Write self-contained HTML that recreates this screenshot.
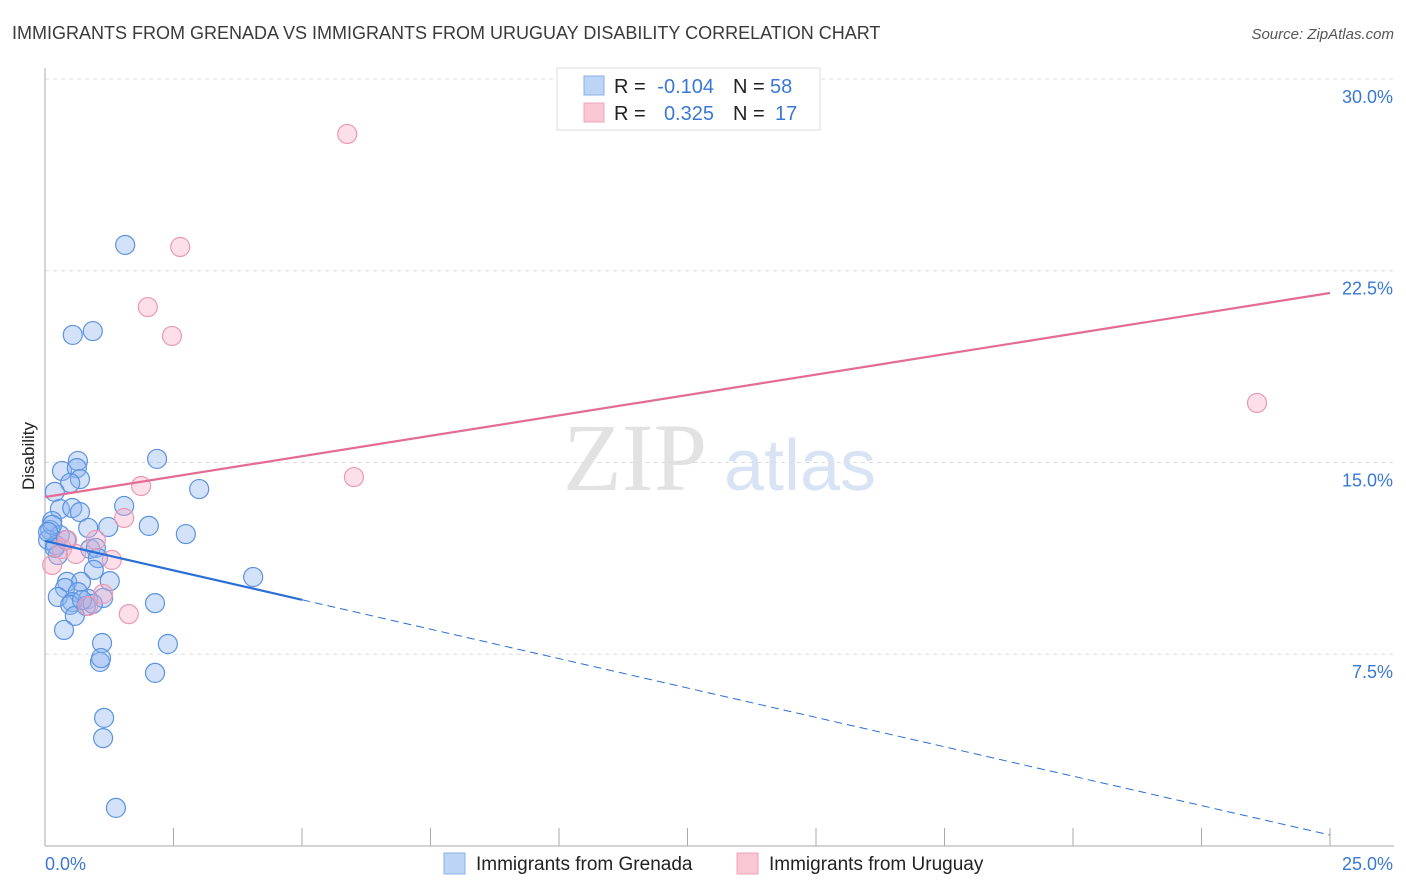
<!DOCTYPE html>
<html><head><meta charset="utf-8"><style>
body{margin:0;background:#fff;font-family:"Liberation Sans",sans-serif;}
svg{display:block}
</style></head><body>
<svg id="chart" width="1406" height="892" xmlns="http://www.w3.org/2000/svg">
<text x="12" y="39" font-size="18" fill="#3a3a3a">IMMIGRANTS FROM GRENADA VS IMMIGRANTS FROM URUGUAY DISABILITY CORRELATION CHART</text>
<text x="1394" y="39" font-size="15" fill="#555" font-style="italic" text-anchor="end">Source: ZipAtlas.com</text>
<g>
<text x="635" y="490" font-size="96" fill="#e2e2e2" font-family="Liberation Serif,serif" text-anchor="middle">ZIP</text>
<text x="800" y="490" font-size="72" fill="#d8e4f4" text-anchor="middle">atlas</text>
</g>
<g id="grid"></g>
<g id="axes"></g>
<g id="marks"></g>
<text transform="translate(34,456) rotate(-90)" font-size="17" fill="#222" text-anchor="middle">Disability</text>
<g font-size="20">
<rect x="557" y="68" width="263" height="62" fill="#fff" stroke="#ddd"/>
<rect x="584" y="76" width="20" height="19" fill="#bcd4f6" stroke="#8ab0e8"/>
<rect x="584" y="103" width="20" height="19" fill="#f9c6d4" stroke="#eea4b8"/>
<text x="614" y="93" fill="#222">R =</text>
<text x="714" y="93" fill="#3a78d4" text-anchor="end">-0.104</text>
<text x="733" y="93" fill="#222">N =</text>
<text x="770" y="93" fill="#3a78d4">58</text>
<text x="614" y="120" fill="#222">R =</text>
<text x="714" y="120" fill="#3a78d4" text-anchor="end">0.325</text>
<text x="733" y="120" fill="#222">N =</text>
<text x="775" y="120" fill="#3a78d4">17</text>
</g>
<g>
<rect x="444" y="853" width="21" height="21" fill="#bcd4f6" stroke="#8ab0e8"/>
<text x="476" y="870" font-size="19" fill="#222">Immigrants from Grenada</text>
<rect x="737" y="853" width="21" height="21" fill="#f9c6d4" stroke="#eea4b8"/>
<text x="769" y="870" font-size="19" fill="#222">Immigrants from Uruguay</text>
</g>
</svg>
<script>
const yTicks=[7.5,15,22.5,30];
const yTickLabels=["7.5%","15.0%","22.5%","30.0%"];
const xTicks=[0,2.5,5,7.5,10,12.5,15,17.5,20,22.5,25];
const blueX=[1.56,0.54,0.93,2.18,0.64,0.33,0.62,0.68,0.49,0.19,3.00,1.54,0.29,0.53,0.68,0.14,0.84,1.23,2.02,2.74,0.10,0.29,0.06,0.21,0.88,0.99,1.03,0.25,0.95,1.26,0.43,0.70,0.39,0.64,0.25,0.84,1.13,0.53,0.80,2.14,0.49,0.58,0.37,4.05,1.11,2.39,1.07,1.09,2.14,1.15,1.13,1.38,0.93,0.14,0.19,0.06,0.41,0.72];
const blueY=[23.51,19.99,20.14,15.14,15.06,14.67,14.78,14.35,14.20,13.85,13.96,13.30,13.18,13.22,13.06,12.71,12.44,12.48,12.52,12.20,12.36,12.16,11.97,11.77,11.62,11.66,11.26,11.38,10.80,10.36,10.33,10.33,10.09,9.93,9.74,9.66,9.70,9.54,9.39,9.50,9.43,9.00,8.45,10.52,7.94,7.90,7.20,7.35,6.77,5.01,4.22,1.49,9.47,12.56,11.66,12.28,11.97,9.62];
const pinkX=[5.88,2.63,2.00,2.47,23.58,6.01,1.87,1.54,0.99,0.33,0.60,1.30,0.14,1.13,0.84,1.63,0.43];
const pinkY=[27.85,23.43,21.08,19.95,17.33,14.43,14.08,12.83,11.97,11.62,11.42,11.19,10.99,9.86,9.39,9.07,11.97];
const blueTrend=[11.93,0.43];
const pinkTrend=[13.65,21.63];
const NS="http://www.w3.org/2000/svg";
function X(v){return 45+v*51.4;}
function Y(v){return 846-v*25.567;}
function mk(tag,attrs,parent){const e=document.createElementNS(NS,tag);for(const k in attrs)e.setAttribute(k,attrs[k]);document.getElementById(parent).appendChild(e);return e;}
yTicks.forEach((t,i)=>{
 const g=mk('line',{x1:45,x2:1394,y1:Y(t),y2:Y(t),stroke:'#ddd','stroke-dasharray':'4,4'},'grid');
 
 
 const l=mk('text',{x:1393,y:Y(t)+24,'font-size':18,fill:'#3a78d4','text-anchor':'end'},'axes');
 l.textContent=yTickLabels[i];
 
 
});
const ax=mk('line',{x1:45,x2:45,y1:68,y2:846,stroke:'#aaa'},'axes');


const bx=mk('line',{x1:45,x2:1394,y1:846,y2:846,stroke:'#aaa'},'axes');


xTicks.forEach(t=>{
 const e=mk('line',{x1:X(t),x2:X(t),y1:828,y2:846,stroke:'#aaa'},'axes');
 
 
});
const x0=mk('text',{x:45,y:870,'font-size':18,fill:'#3a78d4'},'axes');x0.textContent='0.0%';


const x1=mk('text',{x:1393,y:870,'font-size':18,fill:'#3a78d4','text-anchor':'end'},'axes');x1.textContent='25.0%';


blueX.forEach((v,i)=>{
 const c=mk('circle',{cx:X(v),cy:Y(blueY[i]),r:9.5,fill:'rgba(140,180,240,0.38)',stroke:'#5b93e0','stroke-width':1.2},'marks');
 
 
});
pinkX.forEach((v,i)=>{
 const c=mk('circle',{cx:X(v),cy:Y(pinkY[i]),r:9.5,fill:'rgba(246,170,195,0.38)',stroke:'#ec98b3','stroke-width':1.2},'marks');
 
 
});
function ty(tr,x){return tr[0]+(tr[1]-tr[0])*x/25;}
const b1=mk('line',{x1:X(0),y1:Y(ty(blueTrend,0)),x2:X(5),y2:Y(ty(blueTrend,5)),stroke:'#2a6fd6','stroke-width':2.2},'marks');


const b2=mk('line',{x1:X(5),y1:Y(ty(blueTrend,5)),x2:X(25),y2:Y(ty(blueTrend,25)),stroke:'#2a6fd6','stroke-width':1,'stroke-dasharray':'8,5'},'marks');


const p1=mk('line',{x1:X(0),y1:Y(pinkTrend[0]),x2:X(25),y2:Y(pinkTrend[1]),stroke:'#e46c94','stroke-width':2.2},'marks');


</script>
</body></html>
